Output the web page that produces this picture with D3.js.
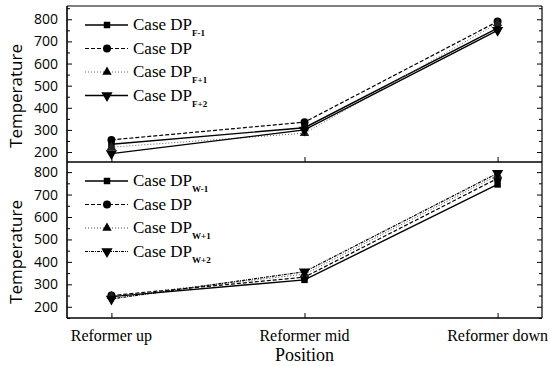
<!DOCTYPE html>
<html>
<head>
<meta charset="utf-8">
<script src="https://cdn.jsdelivr.net/npm/d3@7"></script>
<style>
  body { margin: 0; background: #fff; }
</style>
</head>
<body>
<div id="chart"></div>
<script>
// categories
const positions = ["Reformer up", "Reformer mid", "Reformer down"];

// top panel (F cases)
const caseF_m1 = [235, 310, 760];
const caseF_dp = [255, 335, 790];
const caseF_p1 = [222, 285, 782];
const caseF_p2 = [193, 300, 750];

// bottom panel (W cases)
const caseW_m1 = [245, 320, 745];
const caseW_dp = [250, 332, 772];
const caseW_p1 = [247, 345, 785];
const caseW_p2 = [235, 356, 795];

const yTicks = [200, 300, 400, 500, 600, 700, 800];

const serif = "'Liberation Serif', 'Times New Roman', 'DejaVu Serif', serif";
const sans = "'Open Sans', 'Noto Sans', 'DejaVu Sans', sans-serif";

const W = 550, H = 366;
const left = 67, right = 542;

const svg = d3.select("#chart").append("svg")
    .attr("width", W)
    .attr("height", H);

const x = d3.scalePoint()
    .domain(positions)
    .range([left, right])
    .padding(0.23);

// marker shapes
const sym = {
    square: d3.symbol().type(d3.symbolSquare).size(42),
    circle: d3.symbol().type(d3.symbolCircle).size(50),
    triangle: d3.symbol().type(d3.symbolTriangle).size(38),
    down: d3.symbol().type(d3.symbolTriangle).size(55)
};

function drawPanel(top, bottom, domain, series, showTop) {
    const y = d3.scaleLinear().domain(domain).range([bottom, top]);
    const g = svg.append("g");

    // frame
    g.append("line").attr("x1", left).attr("x2", right).attr("y1", bottom).attr("y2", bottom)
        .attr("stroke", "#000").attr("stroke-width", 1.6);
    g.append("line").attr("x1", left).attr("x2", left).attr("y1", top).attr("y2", bottom)
        .attr("stroke", "#000").attr("stroke-width", 1.6);
    g.append("line").attr("x1", right).attr("x2", right).attr("y1", top).attr("y2", bottom)
        .attr("stroke", "#000").attr("stroke-width", 1.2);
    if (showTop) {
        g.append("line").attr("x1", left).attr("x2", right).attr("y1", top).attr("y2", top)
            .attr("stroke", "#000").attr("stroke-width", 1.2);
    }

    // left axis, ticks inward
    const yAx = g.append("g")
        .attr("transform", `translate(${left},0)`)
        .call(d3.axisLeft(y).tickValues(yTicks).tickSizeInner(-5).tickSizeOuter(0).tickPadding(9));
    yAx.select(".domain").remove();
    yAx.selectAll("text")
        .style("font-family", sans)
        .style("font-size", "14px")
        .attr("fill", "#000");

    const minor = yTicks.map(v => v + 50).filter(v => v < domain[1]).concat([150].filter(v => v >= domain[0]));
    const yMin = g.append("g")
        .attr("transform", `translate(${left},0)`)
        .call(d3.axisLeft(y).tickValues(minor).tickSizeInner(-3).tickSizeOuter(0).tickFormat(""));
    yMin.select(".domain").remove();

    // right axis ticks
    const yR = g.append("g")
        .attr("transform", `translate(${right},0)`)
        .call(d3.axisRight(y).tickValues(yTicks).tickSizeInner(-5).tickSizeOuter(0).tickFormat(""));
    yR.select(".domain").remove();
    const yRm = g.append("g")
        .attr("transform", `translate(${right},0)`)
        .call(d3.axisRight(y).tickValues(minor).tickSizeInner(-3).tickSizeOuter(0).tickFormat(""));
    yRm.select(".domain").remove();

    // x ticks pointing up
    const xAx = g.append("g")
        .attr("transform", `translate(0,${bottom})`)
        .call(d3.axisBottom(x).tickSizeInner(-5).tickSizeOuter(0).tickFormat(""));
    xAx.select(".domain").remove();

    // y label
    g.append("text")
        .attr("transform", `translate(22,${bottom - 66}) rotate(-90)`)
        .attr("text-anchor", "middle")
        .style("font-family", sans)
        .style("font-size", "17px")
        .text("Temperature");

    const line = d3.line()
        .x((d, i) => x(positions[i]))
        .y(d => y(d));

    series.forEach(s => {
        g.append("path")
            .datum(s.values)
            .attr("fill", "none")
            .attr("stroke", s.color)
            .attr("stroke-width", s.width)
            .attr("stroke-dasharray", s.dash)
            .attr("d", line);
    });
    series.forEach(s => {
        g.selectAll(null)
            .data(s.values)
            .join("path")
            .attr("d", sym[s.shape])
            .attr("transform", (d, i) => `translate(${x(positions[i])},${y(d)})${s.shape === "down" ? " rotate(180)" : ""}`)
            .attr("fill", s.color === "#000" ? "#000" : "#222");
    });

    // legend
    const leg = g.append("g")
        .selectAll("g")
        .data(series)
        .join("g")
        .attr("transform", (d, i) => `translate(0,${top + 19 + i * 23.5})`);
    leg.append("line")
        .attr("x1", 85).attr("x2", 128)
        .attr("stroke", d => d.color)
        .attr("stroke-width", d => d.width)
        .attr("stroke-dasharray", d => d.dash);
    leg.append("path")
        .attr("d", d => sym[d.shape]())
        .attr("transform", d => `translate(107,0)${d.shape === "down" ? " rotate(180)" : ""}`)
        .attr("fill", "#000");
    const lt = leg.append("text")
        .attr("x", 133)
        .attr("y", 5)
        .style("font-family", serif)
        .style("font-size", "17px");
    lt.append("tspan").text("Case DP");
    lt.append("tspan")
        .attr("dy", 6)
        .style("font-size", "9px")
        .style("font-weight", "bold")
        .text(d => d.sub);
}

drawPanel(6, 162, [155, 860], [
    { values: caseF_m1, shape: "square", dash: null, width: 1.4, color: "#000", sub: "F-1" },
    { values: caseF_dp, shape: "circle", dash: "4,2", width: 1.2, color: "#000", sub: "" },
    { values: caseF_p1, shape: "triangle", dash: "1,2", width: 1, color: "#666", sub: "F+1" },
    { values: caseF_p2, shape: "down", dash: null, width: 1.4, color: "#000", sub: "F+2" }
], true);

drawPanel(162, 318, [150, 845], [
    { values: caseW_m1, shape: "square", dash: null, width: 1.4, color: "#000", sub: "W-1" },
    { values: caseW_dp, shape: "circle", dash: "4,2", width: 1.2, color: "#000", sub: "" },
    { values: caseW_p1, shape: "triangle", dash: "1,2", width: 1, color: "#444", sub: "W+1" },
    { values: caseW_p2, shape: "down", dash: "3,1,1,1", width: 1.2, color: "#000", sub: "W+2" }
], false);

// x labels
svg.append("g")
    .selectAll("text")
    .data(positions)
    .join("text")
    .attr("x", d => x(d))
    .attr("y", 341)
    .attr("text-anchor", "middle")
    .style("font-family", serif)
    .style("font-size", "16px")
    .text(d => d);

svg.append("text")
    .attr("x", x("Reformer mid"))
    .attr("y", 361)
    .attr("text-anchor", "middle")
    .style("font-family", serif)
    .style("font-size", "18px")
    .text("Position");
</script>
</body>
</html>
